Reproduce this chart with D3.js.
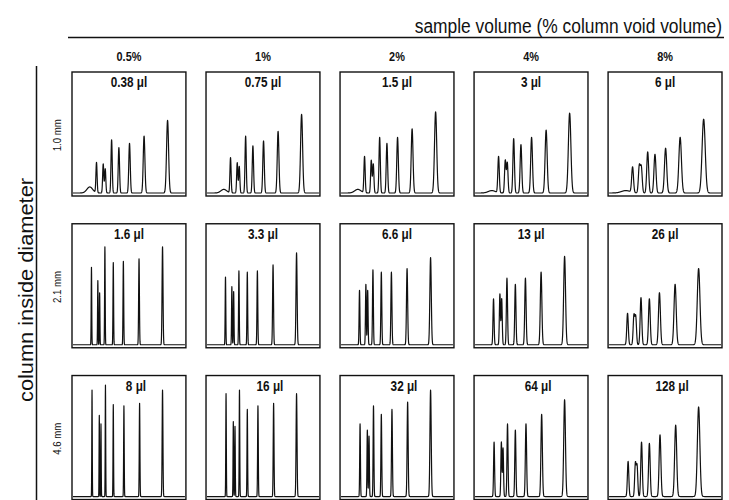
<!DOCTYPE html>
<html>
<head>
<meta charset="utf-8">
<script src="https://cdn.jsdelivr.net/npm/d3@7"></script>
<style>
  body { margin: 0; background: #fff; }
  svg text { font-family: "Liberation Sans", Arial, sans-serif; fill: #111; }
</style>
</head>
<body>
<div id="container"></div>
<script>
// columns: sample volume as % of column void volume
const volumePct = ["0.5%", "1%", "2%", "4%", "8%"];
// rows: column inside diameter
const diameters = ["1.0 mm", "2.1 mm", "4.6 mm"];
const sampleVolumes = [
    ["0.38 μl", "0.75 μl", "1.5 μl", "3 μl", "6 μl"],
    ["1.6 μl", "3.3 μl", "6.6 μl", "13 μl", "26 μl"],
    ["8 μl", "16 μl", "32 μl", "64 μl", "128 μl"]
];

// retention times (min): solvent bump, peak 1, peak 2a, peak 2b, peaks 3..7
const retention10 = [1.5, 2.1, 2.7, 2.88, 3.45, 4.1, 5.05, 6.35, 8.45];
const retention21 = [1.3, 1.65, 2.22, 2.38, 2.85, 3.6, 4.5, 5.9, 8.0];
const retention46 = [1.3, 1.7, 2.35, 2.5, 2.9, 3.6, 4.55, 5.95, 8.0];

// peak heights (fraction of panel height), one list per panel
const heights10 = [
    [0.05, 0.25, 0.24, 0.20, 0.44, 0.375, 0.41, 0.47, 0.60],
    [0.03, 0.29, 0.25, 0.22, 0.47, 0.39, 0.43, 0.51, 0.65],
    [0.03, 0.30, 0.27, 0.24, 0.46, 0.41, 0.46, 0.53, 0.67],
    [0.02, 0.30, 0.27, 0.25, 0.45, 0.40, 0.46, 0.52, 0.66],
    [0.02, 0.21, 0.22, 0.21, 0.34, 0.32, 0.37, 0.46, 0.61]
];
const heights21 = [
    [0, 0.64, 0.53, 0.43, 0.81, 0.68, 0.69, 0.71, 0.81],
    [0, 0.56, 0.48, 0.44, 0.61, 0.60, 0.61, 0.66, 0.76],
    [0, 0.45, 0.50, 0.45, 0.62, 0.60, 0.60, 0.63, 0.72],
    [0, 0.38, 0.42, 0.38, 0.55, 0.50, 0.55, 0.60, 0.73],
    [0, 0.26, 0.24, 0.23, 0.39, 0.38, 0.43, 0.50, 0.63]
];
const heights46 = [
    [0, 0.88, 0.67, 0.60, 0.92, 0.76, 0.75, 0.77, 0.88],
    [0, 0.85, 0.62, 0.58, 0.88, 0.72, 0.75, 0.77, 0.85],
    [0, 0.60, 0.55, 0.50, 0.75, 0.68, 0.72, 0.78, 0.88],
    [0, 0.45, 0.45, 0.40, 0.60, 0.55, 0.60, 0.68, 0.80],
    [0, 0.29, 0.27, 0.25, 0.45, 0.44, 0.51, 0.59, 0.74]
];

// peak width (sigma, min) per panel, and relative width per peak
const sigma10 = [0.065, 0.065, 0.07, 0.08, 0.10];
const sigma21 = [0.03, 0.035, 0.045, 0.06, 0.085];
const sigma46 = [0.025, 0.03, 0.04, 0.055, 0.08];
const relWidth = [4, 0.8, 0.8, 0.8, 0.85, 0.9, 1.0, 1.15, 1.4];

const retentionByRow = [retention10, retention21, retention46];
const heightsByRow = [heights10, heights21, heights46];
const sigmaByRow = [sigma10, sigma21, sigma46];

const width = 729;
const height = 500;
const narrow = 0.84; // horizontal squeeze, the original uses a narrow face

const container = document.getElementById('container');

const svg = d3.create("svg")
    .attr("width", width)
    .attr("height", height)
    .attr("viewBox", [0, 0, width, height]);

const col = d3.scaleBand()
    .domain(volumePct)
    .range([72, 722])
    .paddingInner(0.15);

const row = d3.scaleBand()
    .domain(diameters)
    .range([72, 502])
    .paddingInner(1/6);

// top title + rule
svg.append("line")
    .attr("x1", 68).attr("x2", 724)
    .attr("y1", 37.5).attr("y2", 37.5)
    .attr("stroke", "#111")
    .attr("stroke-width", 1.5);

const title = svg.append("text")
    .attr("text-anchor", "end")
    .attr("font-size", 20)
    .text("sample volume (% column void volume)");
// squeeze the title to the width it has in the original
const titleW = title.node().getComputedTextLength() || 345;
title.attr("transform", `translate(722,33) scale(${300 / titleW},1)`);

svg.append("g")
    .selectAll("text")
    .data(volumePct)
    .join("text")
    .attr("transform", d => `translate(${col(d) + col.bandwidth()/2},61) scale(${narrow},1)`)
    .attr("text-anchor", "middle")
    .attr("font-size", 13)
    .attr("font-weight", "bold")
    .text(d => d);

// left title + rule
svg.append("line")
    .attr("x1", 36.5).attr("x2", 36.5)
    .attr("y1", 66).attr("y2", 500)
    .attr("stroke", "#111")
    .attr("stroke-width", 1.5);

svg.append("text")
    .attr("transform", `translate(33,402) rotate(-90)`)
    .attr("font-size", 21)
    .attr("textLength", 224)
    .attr("lengthAdjust", "spacingAndGlyphs")
    .text("column inside diameter");

svg.append("g")
    .selectAll("text")
    .data(diameters)
    .join("text")
    .attr("transform", d => `translate(61,${row(d) + row.bandwidth()/2}) rotate(-90) scale(${narrow},1)`)
    .attr("text-anchor", "middle")
    .attr("font-size", 11.5)
    .text(d => d);

// chromatogram panels
const tx = d3.scaleLinear().domain([0, 10]);
const times = d3.range(0, 10.0001, 0.01);

diameters.forEach((dia, r) => {
    volumePct.forEach((vp, c) => {
        const x0 = col(vp);
        const y0 = row(dia);
        const w = col.bandwidth();
        const h = Math.min(row.bandwidth(), 124);

        const xs = tx.copy().range([x0 + 1, x0 + w - 1]);
        const ys = d3.scaleLinear().domain([0, 1]).range([y0 + h - 3, y0]);

        const rt = retentionByRow[r];
        const hs = heightsByRow[r][c];
        const sg = sigmaByRow[r][c];

        const signal = times.map(t => {
            let v = 0;
            rt.forEach((m, i) => {
                const s = sg * relWidth[i];
                v += hs[i] * Math.exp(-0.5 * ((t - m) / s) ** 2);
            });
            return [t, v];
        });

        const g = svg.append("g");

        g.append("rect")
            .attr("x", x0)
            .attr("y", y0)
            .attr("width", w)
            .attr("height", h)
            .attr("fill", "none")
            .attr("stroke", "#111")
            .attr("stroke-width", 1.4);

        g.append("path")
            .datum(signal)
            .attr("fill", "none")
            .attr("stroke", "#111")
            .attr("stroke-width", 1.2)
            .attr("stroke-linejoin", "round")
            .attr("d", d3.line().x(d => xs(d[0])).y(d => ys(d[1])));

        // labels in the bottom row sit a little right of centre
        const dx = r === 2 ? 7 : 0;
        g.append("text")
            .attr("transform", `translate(${x0 + w/2 + dx},${y0 + 15}) scale(${narrow},1)`)
            .attr("text-anchor", "middle")
            .attr("font-size", 14)
            .attr("font-weight", "bold")
            .text(sampleVolumes[r][c]);
    });
});

container.append(svg.node());
</script>
</body>
</html>
